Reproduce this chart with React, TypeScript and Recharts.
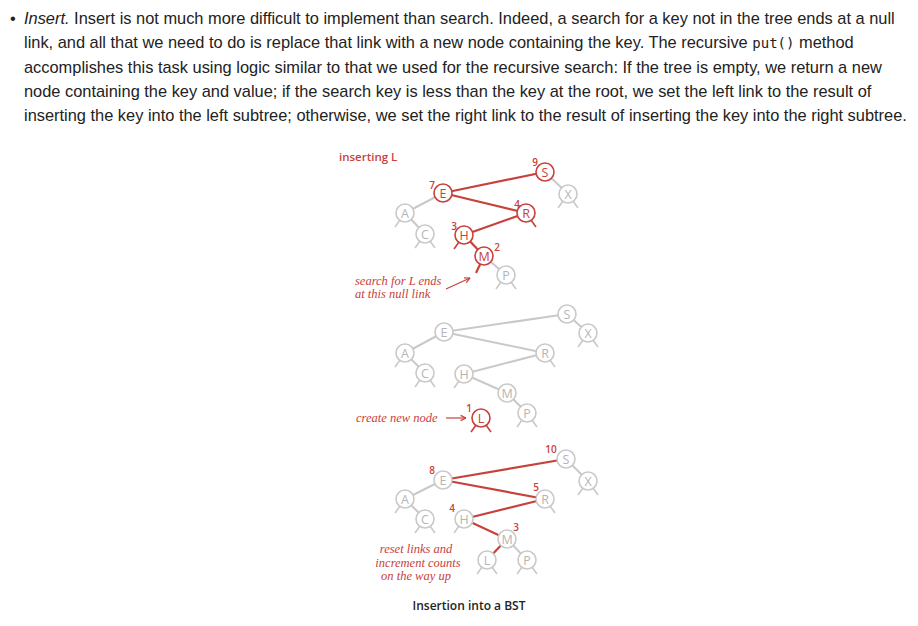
import { ScatterChart, Scatter, XAxis, YAxis, ReferenceLine } from "recharts";

const RED = "#c8413b";
const GRAY = "#c9c9c9";

// node: key, x, y, red?, null stubs
const nodes = [
  // tree 1
  { k: "S", x: 545, y: 172, red: true, stubs: "" },
  { k: "X", x: 568, y: 194, red: false, stubs: "LR" },
  { k: "E", x: 443, y: 193, red: true, stubs: "" },
  { k: "R", x: 526, y: 213, red: true, stubs: "R" },
  { k: "A", x: 405, y: 213, red: false, stubs: "L" },
  { k: "C", x: 425, y: 234, red: false, stubs: "LR" },
  { k: "H", x: 464, y: 235, red: true, stubs: "L" },
  { k: "M", x: 484, y: 256, red: true, stubs: "" },
  { k: "P", x: 506, y: 275, red: false, stubs: "LR" },
  // tree 2
  { k: "S", x: 567, y: 314, red: false, stubs: "" },
  { k: "X", x: 588, y: 333, red: false, stubs: "LR" },
  { k: "E", x: 444, y: 332, red: false, stubs: "" },
  { k: "R", x: 545, y: 353, red: false, stubs: "R" },
  { k: "A", x: 405, y: 353, red: false, stubs: "L" },
  { k: "C", x: 425, y: 373, red: false, stubs: "LR" },
  { k: "H", x: 464, y: 374, red: false, stubs: "L" },
  { k: "M", x: 507, y: 393, red: false, stubs: "" },
  { k: "P", x: 527, y: 413, red: false, stubs: "LR" },
  { k: "L", x: 481, y: 418, red: true, stubs: "LR" },
  // tree 3
  { k: "S", x: 566, y: 459, red: false, stubs: "" },
  { k: "X", x: 588, y: 481, red: false, stubs: "LR" },
  { k: "E", x: 443, y: 480, red: false, stubs: "" },
  { k: "R", x: 545, y: 499, red: false, stubs: "R" },
  { k: "A", x: 405, y: 499, red: false, stubs: "L" },
  { k: "C", x: 425, y: 519, red: false, stubs: "LR" },
  { k: "H", x: 464, y: 519, red: false, stubs: "L" },
  { k: "M", x: 507, y: 539, red: false, stubs: "" },
  { k: "L", x: 487, y: 560, red: false, stubs: "LR" },
  { k: "P", x: 527, y: 560, red: false, stubs: "LR" },
];

// edges: [from index, to index, red]
const edges: [number, number, boolean][] = [
  [2, 0, true], [0, 1, false], [2, 3, true], [2, 4, false], [4, 5, false],
  [3, 6, true], [6, 7, true], [7, 8, false],
  [11, 9, false], [9, 10, false], [11, 12, false], [11, 13, false], [13, 14, false],
  [12, 15, false], [15, 16, false], [16, 17, false],
  [21, 19, true], [19, 20, false], [21, 22, true], [21, 23, false], [23, 24, false],
  [22, 25, true], [25, 26, true], [26, 27, true], [26, 28, false],
];

const counts = [
  { t: "9", x: 535, y: 162 }, { t: "7", x: 432, y: 185 }, { t: "4", x: 517, y: 204 },
  { t: "3", x: 454, y: 226 }, { t: "2", x: 497, y: 247 }, { t: "1", x: 469, y: 408 },
  { t: "10", x: 551, y: 449 }, { t: "8", x: 432, y: 470 }, { t: "5", x: 536, y: 487 },
  { t: "4", x: 452, y: 508 }, { t: "3", x: 516, y: 527 },
];

const notes = [
  { t: "search for L ends", x: 355, y: 285, anchor: "start" },
  { t: "at this null link", x: 355, y: 298, anchor: "start" },
  { t: "create new node", x: 356, y: 422, anchor: "start" },
  { t: "reset links and", x: 416, y: 553, anchor: "middle" },
  { t: "increment counts", x: 418, y: 567, anchor: "middle" },
  { t: "on the way up", x: 416, y: 580, anchor: "middle" },
];

// arrows: [x1, y1, x2, y2]
const arrows = [
  [446, 289, 470, 278],
  [446, 418, 466, 418],
];

const nullLink = [484, 256, 476, 273];

const paragraph = [
  ["Insert.", " Insert is not much more difficult to implement than search. Indeed, a search for a key not in the tree ends at a null"],
  ["", "link, and all that we need to do is replace that link with a new node containing the key. The recursive "],
  ["", "accomplishes this task using logic similar to that we used for the recursive search: If the tree is empty, we return a new"],
  ["", "node containing the key and value; if the search key is less than the key at the root, we set the left link to the result of"],
  ["", "inserting the key into the left subtree; otherwise, we set the right link to the result of inserting the key into the right subtree."],
];

const stubSegs = nodes.flatMap((n) =>
  n.stubs.split("").filter(Boolean).map((s) => {
    const d = s === "L" ? -1 : 1;
    return { seg: [{ x: n.x + d * 5, y: n.y + 7 }, { x: n.x + d * 10, y: n.y + 14 }], red: n.red };
  })
);

const arrowSegs = arrows.flatMap(([x1, y1, x2, y2]) => {
  const a = Math.atan2(y2 - y1, x2 - x1);
  const h = (da: number) => ({ x: x2 - 6 * Math.cos(a + da), y: y2 - 6 * Math.sin(a + da) });
  return [
    [{ x: x1, y: y1 }, { x: x2, y: y2 }],
    [h(0.45), { x: x2, y: y2 }],
    [h(-0.45), { x: x2, y: y2 }],
  ];
});

const NodeShape = (p: any) => {
  const c = p.payload.red ? RED : GRAY;
  return (
    <g>
      <circle cx={p.cx} cy={p.cy} r={9} fill="#fff" stroke={c} strokeWidth={1.6} />
      <text x={p.cx} y={p.cy + 4.5} textAnchor="middle" fontSize={12.5} fontFamily="Open Sans, sans-serif" fill={p.payload.red ? RED : "#b5b5b5"}>
        {p.payload.k}
      </text>
    </g>
  );
};

const CountShape = (p: any) => (
  <text x={p.cx} y={p.cy + 3.5} textAnchor="middle" fontSize={10} fontFamily="Open Sans, sans-serif" fontWeight={600} fill={RED}>
    {p.payload.t}
  </text>
);

const NoteShape = (p: any) => (
  <text x={p.cx} y={p.cy} textAnchor={p.payload.anchor} fontSize={12.5} fontStyle="italic" fontFamily="Liberation Serif, serif" fill={RED}>
    {p.payload.t}
  </text>
);

export default function App() {
  return (
    <div>
      <div style={{ position: "absolute", left: 0, top: 0, width: 918, fontFamily: "Liberation Sans, Arial, sans-serif", fontSize: 16.4, color: "#222", lineHeight: "24px" }}>
        <div style={{ position: "absolute", left: 10, top: 6 }}>•</div>
        <div style={{ position: "absolute", left: 24, top: 6, whiteSpace: "nowrap" }}>
          {paragraph.map(([em, rest], i) => (
            <div key={i}>
              {em && <i>{em}</i>}
              {rest}
              {i === 1 && (
                <>
                  <code style={{ fontFamily: "DejaVu Sans Mono, monospace", fontSize: 14 }}>put()</code> method
                </>
              )}
            </div>
          ))}
        </div>
      </div>
      <div style={{ position: "absolute", left: 0, top: 140 }}>
        <ScatterChart width={918} height={486} margin={{ top: 0, right: 0, bottom: 0, left: 0 }}>
          <XAxis type="number" dataKey="x" domain={[0, 918]} hide />
          <YAxis type="number" dataKey="y" domain={[140, 626]} reversed hide />
          {edges.map(([a, b, red], i) => (
            <ReferenceLine key={"e" + i} segment={[{ x: nodes[a].x, y: nodes[a].y }, { x: nodes[b].x, y: nodes[b].y }]} stroke={red ? RED : GRAY} strokeWidth={red ? 2.2 : 2} ifOverflow="visible" />
          ))}
          {stubSegs.map((s, i) => (
            <ReferenceLine key={"s" + i} segment={s.seg} stroke={s.red ? RED : GRAY} strokeWidth={1.6} ifOverflow="visible" />
          ))}
          <ReferenceLine segment={[{ x: nullLink[0], y: nullLink[1] }, { x: nullLink[2], y: nullLink[3] }]} stroke={RED} strokeWidth={2.2} ifOverflow="visible" />
          {arrowSegs.map((s, i) => (
            <ReferenceLine key={"a" + i} segment={s} stroke={RED} strokeWidth={1.2} ifOverflow="visible" />
          ))}
          <Scatter data={nodes} shape={NodeShape} isAnimationActive={false} />
          <Scatter data={counts} shape={CountShape} isAnimationActive={false} />
          <Scatter data={notes} shape={NoteShape} isAnimationActive={false} />
          <Scatter
            data={[{ x: 339, y: 157 }]}
            isAnimationActive={false}
            shape={(p: any) => (
              <text x={p.cx} y={p.cy + 4} fontSize={11.5} fontWeight={600} fontFamily="Open Sans, sans-serif" fill={RED}>inserting L</text>
            )}
          />
          <Scatter
            data={[{ x: 469, y: 606 }]}
            isAnimationActive={false}
            shape={(p: any) => (
              <text x={p.cx} y={p.cy + 4} textAnchor="middle" fontSize={12} fontWeight={600} fontFamily="Open Sans, sans-serif" fill="#222">Insertion into a BST</text>
            )}
          />
        </ScatterChart>
      </div>
    </div>
  );
}
